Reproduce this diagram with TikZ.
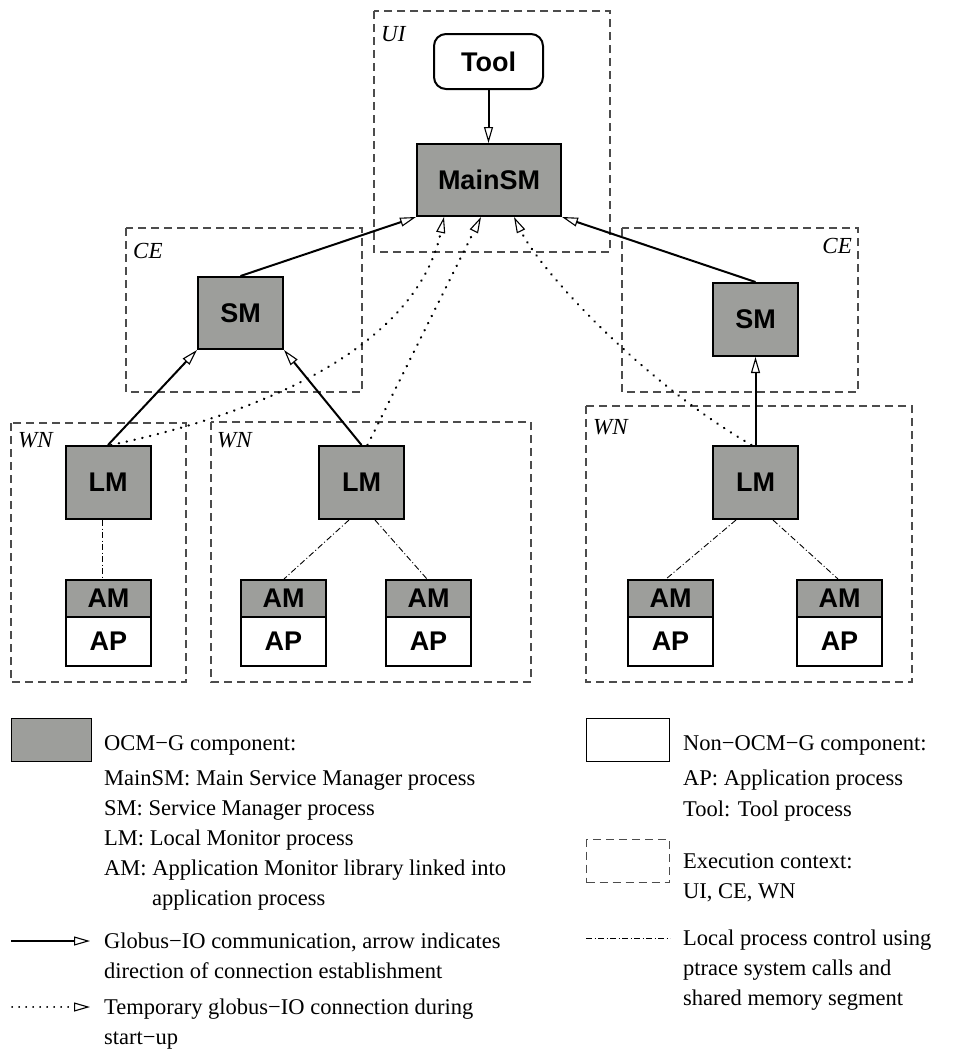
\documentclass[tikz,border=0pt]{standalone}
\usepackage{fontspec}
\setmainfont{Liberation Serif}
\setsansfont{Liberation Sans}
\usetikzlibrary{arrows.meta,calc}
\definecolor{ocmgray}{RGB}{157,158,155}
\begin{document}
\begin{tikzpicture}[x=1pt,y=-1pt,
  comp/.style={draw, line width=2pt, fill=ocmgray, inner sep=0pt,
    font=\sffamily\bfseries\fontsize{27}{27}\selectfont,
    minimum width=85pt, minimum height=73pt},
  noncomp/.style={comp, fill=white},
  ctx/.style={draw=black!70, line width=1.2pt, dash pattern=on 8pt off 5pt},
  ctxlabel/.style={font=\itshape\fontsize{23}{23}\selectfont, inner sep=0pt},
  tip/.style={-{Triangle[open,length=16pt,width=9pt,line width'=1.1pt]}},
  conn/.style={line width=2pt, tip},
  tmp/.style={line width=2.4pt, line cap=round, dash pattern=on 0.3pt off 7.7pt, tip},
  tmpleg/.style={line width=1.8pt, line cap=round, dash pattern=on 0.3pt off 6.7pt, tip},
  ctrl/.style={line width=0.9pt, dash pattern=on 6pt off 2.5pt on 1pt off 2.5pt},
  legtext/.style={font=\fontsize{22.5}{30}\selectfont, anchor=base west, inner sep=0pt},
  legbox/.style={draw, line width=1.3pt, minimum width=83pt, minimum height=43pt, anchor=north west, inner sep=0pt}
]
\useasboundingbox (0,0) rectangle (953,1050);

% execution contexts
\draw[ctx] (374,11) rectangle (610,252);
\draw[ctx] (126,228) rectangle (362,392);
\draw[ctx] (622,228) rectangle (858,392);
\draw[ctx] (11,423) rectangle (186,682);
\draw[ctx] (211,422) rectangle (531,682);
\draw[ctx] (586,406) rectangle (912,682);

\node[ctxlabel, anchor=base west] (lUI) at (381,41) {UI};
\node[ctxlabel, anchor=base west] (lCE1) at (133,258) {CE};
\node[ctxlabel, anchor=base east] (lCE2) at (852,253) {CE};
\node[ctxlabel, anchor=base west] (lWN1) at (18,447) {WN};
\node[ctxlabel, anchor=base west] (lWN2) at (217,447) {WN};
\node[ctxlabel, anchor=base west] (lWN3) at (593,434) {WN};

% components
\node[noncomp, rounded corners=12pt, minimum width=109pt, minimum height=55pt] (Tool) at (488.5,61.5) {Tool};
\node[comp, minimum width=144pt, minimum height=72pt] (MainSM) at (489,180) {MainSM};
\node[comp, minimum height=72pt] (SM1) at (240.5,313) {SM};
\node[comp] (SM2) at (755.5,319.5) {SM};
\node[comp] (LM1) at (108,482.5) {LM};
\node[comp] (LM2) at (361.5,482.5) {LM};
\node[comp] (LM3) at (755.5,482.5) {LM};

\foreach \n/\x in {1/108.5,2/283.5,3/428.5,4/670.5,5/839.5}{
  \node[comp, minimum height=37pt, anchor=north] (AM\n) at (\x,579) {AM};
  \node[noncomp, minimum height=49pt, anchor=north, yshift=2pt] (AP\n) at (AM\n.south) {AP};
}

% Globus-IO connections
\draw[conn] (Tool.south) -- (Tool.south |- MainSM.north);
\draw[conn] (SM1.north) -- (MainSM.south west);
\draw[conn] (SM2.north) -- (MainSM.south east);
\draw[conn] (LM1.north) -- (SM1.south west);
\draw[conn] (LM2.north) -- (SM1.south east);
\draw[conn] (LM3.north) -- (SM2.south);

% temporary connections
\draw[tmp] ($(LM1.north)+(3,0)$) .. controls (300,405) and (420,330) .. ($(MainSM.south west)+(28,0)$);
\draw[tmp] ($(LM2.north)+(6,0)$) -- ($(MainSM.south west)+(65,0)$);
\draw[tmp] ($(LM3.north)+(-4,0)$) .. controls (640,380) and (540,270) .. ($(MainSM.south west)+(98,0)$);

% local process control
\draw[ctrl] ($(LM1.south)+(-6,0)$) -- ($(AM1.north)+(-6.5,0)$);
\draw[ctrl] ($(LM2.south)+(-12.5,0)$) -- ($(AM2.north)+(0.5,0)$);
\draw[ctrl] ($(LM2.south)+(13.5,0)$) -- ($(AM3.north)+(-1.5,0)$);
\draw[ctrl] ($(LM3.south)+(-19.5,0)$) -- ($(AM4.north)+(-4.5,0)$);
\draw[ctrl] ($(LM3.south)+(17.5,0)$) -- ($(AM5.north)+(-1.5,0)$);

% legend, left column
\node[legbox, fill=ocmgray, minimum width=80pt] (legOCM) at (11,718) {};
\node[legtext] (t1) at (104,750) {OCM−G component:};
\node[legtext] (t2) at (104,785) {MainSM: Main Service Manager process};
\node[legtext] (t3) at (104,815) {SM: Service Manager process};
\node[legtext] (t4) at (104,845) {LM: Local Monitor process};
\node[legtext] (t5) at (104,875) {AM: Application Monitor library linked into};
\node[legtext] (t6) at (152,905) {application process};

\coordinate (gs) at (11,941);
\coordinate (ge) at (90,941);
\draw[conn] (gs) -- (ge);
\node[legtext] (t7) at (104,948) {Globus−IO communication, arrow indicates};
\node[legtext] (t8) at (104,978) {direction of connection establishment};

\coordinate (ds) at (12,1007);
\coordinate (de) at (90,1007);
\draw[tmpleg] (ds) -- (de);
\node[legtext] (t9) at (104,1014) {Temporary globus−IO connection during};
\node[legtext] (t10) at (104,1044) {start−up};

% legend, right column
\node[legbox, fill=white] (legNon) at (586,718) {};
\node[legtext] (t11) at (683,750) {Non−OCM−G component:};
\node[legtext] (t12) at (683,785) {AP: Application process};
\node[legtext] (t13) at (683,816) {Tool: Tool process};

\node[legbox, ctx, line width=1.2pt] (legCtx) at (586,839) {};
\node[legtext] (t14) at (683,868) {Execution context:};
\node[legtext] (t15) at (683,898) {UI, CE, WN};

\coordinate (cs) at (586,938);
\coordinate (ce) at (670,938);
\draw[ctrl] (cs) -- (ce);
\node[legtext] (t16) at (683,945) {Local process control using};
\node[legtext] (t17) at (683,975) {ptrace system calls and};
\node[legtext] (t18) at (683,1005) {shared memory segment};
\end{tikzpicture}
\end{document}
